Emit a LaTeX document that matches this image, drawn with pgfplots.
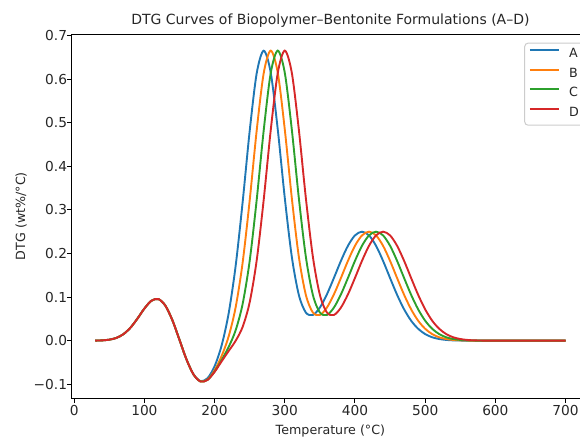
\documentclass[border=0pt]{standalone}
\usepackage{fontspec}
\setmainfont{DejaVu Sans}
\usepackage{pgfplots}
\pgfplotsset{compat=1.18}
\usepackage{pgfplotstable}
\definecolor{mplblue}{HTML}{1F77B4}
\definecolor{mplorange}{HTML}{FF7F0E}
\definecolor{mplgreen}{HTML}{2CA02C}
\definecolor{mplred}{HTML}{D62728}
\pgfplotstableread{
T A B C D
30 0.0002 0.0002 0.0002 0.0002
40 0.0007 0.0007 0.0007 0.0007
50 0.0023 0.0023 0.0023 0.0023
60 0.0063 0.0063 0.0063 0.0063
70 0.0148 0.0148 0.0148 0.0148
80 0.0295 0.0295 0.0295 0.0295
90 0.0504 0.0504 0.0504 0.0504
100 0.0737 0.0737 0.0737 0.0737
110 0.0916 0.0916 0.0916 0.0916
120 0.0954 0.0954 0.0954 0.0954
130 0.0800 0.0800 0.0800 0.0800
140 0.0465 0.0465 0.0465 0.0465
150 0.0019 0.0019 0.0019 0.0019
160 -0.0431 -0.0431 -0.0431 -0.0431
170 -0.0773 -0.0775 -0.0775 -0.0775
180 -0.0927 -0.0935 -0.0937 -0.0937
190 -0.0860 -0.0890 -0.0898 -0.0900
200 -0.0587 -0.0679 -0.0709 -0.0717
210 -0.0112 -0.0353 -0.0445 -0.0475
220 0.0622 0.0095 -0.0146 -0.0238
230 0.1714 0.0765 0.0238 -0.0003
240 0.3181 0.1793 0.0844 0.0317
250 0.4809 0.3217 0.1829 0.0880
260 0.6133 0.4823 0.3231 0.1843
270 0.6651 0.6137 0.4827 0.3235
280 0.6146 0.6653 0.6139 0.4829
290 0.4846 0.6146 0.6653 0.6139
300 0.3275 0.4846 0.6146 0.6653
310 0.1927 0.3275 0.4846 0.6146
320 0.1051 0.1927 0.3275 0.4846
330 0.0646 0.1051 0.1927 0.3275
340 0.0590 0.0646 0.1051 0.1927
350 0.0759 0.0590 0.0646 0.1051
360 0.1062 0.0759 0.0590 0.0646
370 0.1439 0.1062 0.0759 0.0590
380 0.1831 0.1439 0.1062 0.0759
390 0.2177 0.1831 0.1439 0.1062
400 0.2415 0.2177 0.1831 0.1439
410 0.2500 0.2415 0.2177 0.1831
420 0.2415 0.2500 0.2415 0.2177
430 0.2177 0.2415 0.2500 0.2415
440 0.1831 0.2177 0.2415 0.2500
450 0.1437 0.1831 0.2177 0.2415
460 0.1052 0.1437 0.1831 0.2177
470 0.0719 0.1052 0.1437 0.1831
480 0.0458 0.0719 0.1052 0.1437
490 0.0273 0.0458 0.0719 0.1052
500 0.0151 0.0273 0.0458 0.0719
510 0.0078 0.0151 0.0273 0.0458
520 0.0038 0.0078 0.0151 0.0273
530 0.0017 0.0038 0.0078 0.0151
540 0.0007 0.0017 0.0038 0.0078
550 0.0003 0.0007 0.0017 0.0038
560 0.0001 0.0003 0.0007 0.0017
570 0.0000 0.0001 0.0003 0.0007
580 0.0000 0.0000 0.0001 0.0003
590 0.0000 0.0000 0.0000 0.0001
600 0.0000 0.0000 0.0000 0.0000
650 0.0000 0.0000 0.0000 0.0000
700 0.0000 0.0000 0.0000 0.0000
}\dtg
\begin{document}
\begin{tikzpicture}
\useasboundingbox (-53.8pt,-29.8pt) rectangle (381.2pt,298.7pt);
\clip (-53.8pt,-29.8pt) rectangle (381.2pt,298.7pt);
\begin{axis}[
  at={(0pt,0pt)}, anchor=south west,
  scale only axis, width=388pt, height=273.2pt,
  xmin=-3.5, xmax=733.5, ymin=-0.1321, ymax=0.7034,
  xtick={0,100,200,300,400,500,600,700},
  xticklabels={0,100,200,300,400,500,600,700},
  ytick={-0.1,0,0.1,0.2,0.3,0.4,0.5,0.6,0.7},
  yticklabels={−0.1,0.0,0.1,0.2,0.3,0.4,0.5,0.6,0.7},
  tick pos=left, tick align=outside,
  major tick length=3.3pt,
  every tick/.style={black, line width=0.75pt},
  axis line style={black, line width=0.75pt},
  ticklabel style={font=\fontsize{10.3}{12}\selectfont, text=black!85},
  xticklabel style={inner sep=0pt, anchor=north, yshift=-2pt},
  yticklabel style={inner sep=0pt, anchor=east},
  title={DTG Curves of Biopolymer–Bentonite Formulations (A–D)},
  title style={at={(axis description cs:0.5,1)}, anchor=base, yshift=1.2pt, inner sep=0pt, font=\fontsize{10.5}{12}\selectfont, text=black!85},
  xlabel={Temperature (°C)},
  xlabel style={at={(axis description cs:0.5,0)}, anchor=north, yshift=-19.8pt, inner sep=0pt, font=\fontsize{9.5}{11}\selectfont, text=black!85},
  ylabel={DTG (wt\%/°C)},
  ylabel style={at={(axis description cs:-0.098,0.5)}, anchor=center, inner sep=0pt, font=\fontsize{9.5}{11}\selectfont, text=black!85},
  legend style={at={(axis description cs:1,1)}, anchor=north east, xshift=-2.5pt, yshift=-6.5pt,
    draw=black!20, line width=0.75pt, rounded corners=2.5pt, fill=white,
    font=\fontsize{9.5}{11}\selectfont, text=black!85,
    inner xsep=3.2pt, inner ysep=2.5pt, row sep=2.3pt, column sep=5.5pt,
    nodes={inner sep=1.5pt, text height=6.9pt, text depth=2.5pt}},
  legend cell align=left,
  legend image code/.code={\draw[#1, line width=1.42pt] (0pt,3.45pt) -- (21.75pt,3.45pt);},
]
\addplot[mplblue, line width=1.42pt, smooth] table[x=T, y=A] {\dtg};
\addlegendentry{A}
\addplot[mplorange, line width=1.42pt, smooth] table[x=T, y=B] {\dtg};
\addlegendentry{B}
\addplot[mplgreen, line width=1.42pt, smooth] table[x=T, y=C] {\dtg};
\addlegendentry{C}
\addplot[mplred, line width=1.42pt, smooth] table[x=T, y=D] {\dtg};
\addlegendentry{D}
\end{axis}
\end{tikzpicture}
\end{document}
